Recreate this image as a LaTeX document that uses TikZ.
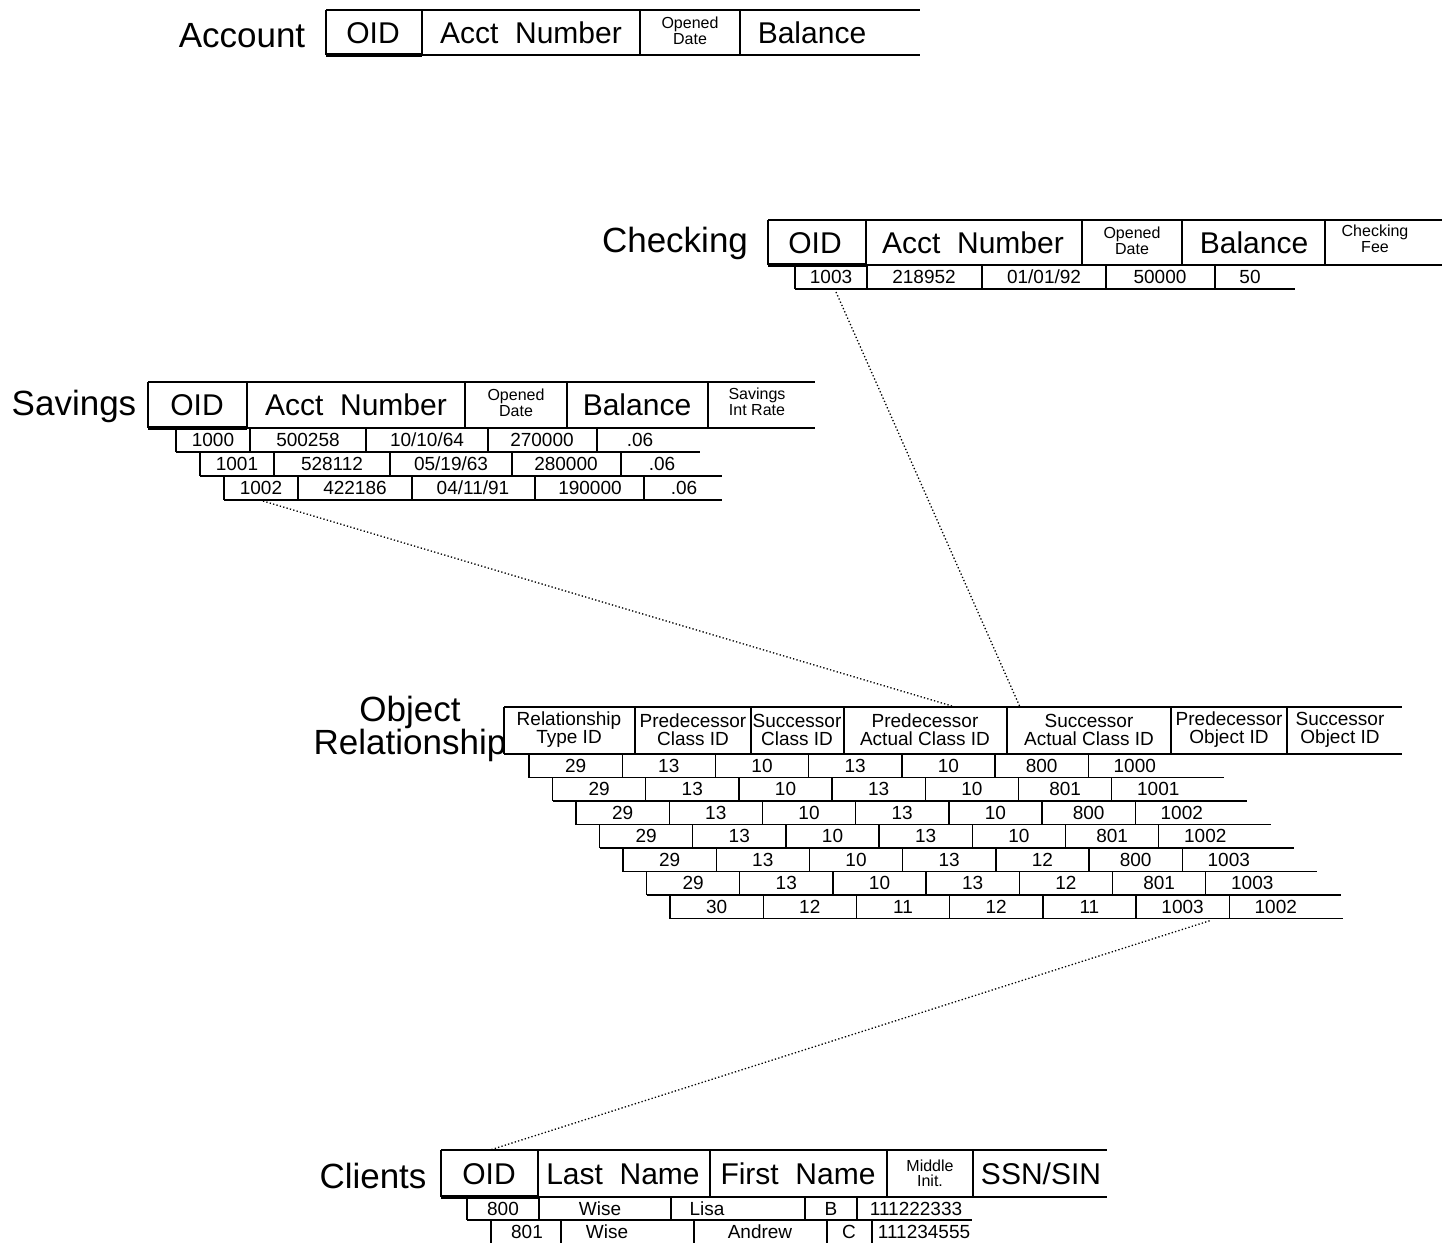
\documentclass[tikz,border=0pt]{standalone}
\usepackage{fontspec}
\setmainfont{Liberation Sans}
\usetikzlibrary{calc}
\tikzset{
  tl/.style={line width=1.4pt},
  hb/.style={line width=2.8pt},
  oidb/.style={line width=3.6pt},
  ttl/.style={font=\fontsize{35}{32}\selectfont, inner sep=0pt, align=center},
  hd/.style={font=\fontsize{30}{30}\selectfont, inner sep=0pt},
  sm/.style={font=\fontsize{16}{15.5}\selectfont, inner sep=0pt, align=center},
  orh/.style={font=\fontsize{19}{18}\selectfont, inner sep=0pt, align=center},
  dat/.style={font=\fontsize{19}{19}\selectfont, inner sep=0pt},
  link/.style={line width=1.3pt, dash pattern=on 1.3pt off 2.2pt}
}
\begin{document}
\begin{tikzpicture}[x=1pt,y=-1pt]
\useasboundingbox (0,0) rectangle (1442,1243);
\fill[white] (0,0) rectangle (1442,1243);

% ---------------- Account ----------------
\node[ttl] (acc) at (242,36) {Account};
\draw[tl] (326,10) -- (920,10);
\draw[hb] (326,55) -- (920,55);
\draw[oidb] (326,55) -- (422,55);
\foreach \x in {326,422,640,740} \draw[tl] (\x,10) -- (\x,55);
\node[hd] (acc-1) at (373,33) {OID};
\node[hd] (acc-2) at (531,33) {Acct~ Number};
\node[sm] (acc-3) at (690,31) {Opened\\Date};
\node[hd] (acc-4) at (812,33) {Balance};

% ---------------- Checking ----------------
\node[ttl] (chk) at (675,243) {Checking};
\draw[tl] (768,220) -- (1442,220);
\draw[hb] (768,265) -- (1442,265);
\draw[oidb] (768,265) -- (866,265);
\foreach \x in {768,866,1082,1182,1325} \draw[tl] (\x,220) -- (\x,265);
\node[hd] (chkh-1) at (815,243) {OID};
\node[hd] (chkh-2) at (973,243) {Acct~ Number};
\node[sm] (chkh-3) at (1132,241) {Opened\\Date};
\node[hd] (chkh-4) at (1254,243) {Balance};
\node[sm] (chkh-5) at (1375,239) {Checking\\Fee};
% row
\draw[tl] (795,289) -- (1295,289);
\foreach \x in {795,867,982,1106,1215} \draw[tl] (\x,265) -- (\x,289);
\node[dat] (chk-1) at (831,277) {1003};
\node[dat] (chk-2) at (924,277) {218952};
\node[dat] (chk-3) at (1044,277) {01/01/92};
\node[dat] (chk-4) at (1160,277) {50000};
\node[dat] (chk-5) at (1250,277) {50};

% ---------------- Savings ----------------
\node[ttl] (sav) at (74,406) {Savings};
\draw[tl] (148,382) -- (815,382);
\draw[hb] (148,428) -- (815,428);
\draw[oidb] (148,428) -- (247,428);
\foreach \x in {148,247,465,567,708} \draw[tl] (\x,382) -- (\x,428);
\node[hd] (savh-1) at (197,405) {OID};
\node[hd] (savh-2) at (356,405) {Acct~ Number};
\node[sm] (savh-3) at (516,403) {Opened\\Date};
\node[hd] (savh-4) at (637,405) {Balance};
\node[sm] (savh-5) at (757,402) {Savings\\Int Rate};
% row 1
\draw[tl] (176,452) -- (700,452);
\foreach \x in {176,250,366,488,597} \draw[tl] (\x,428) -- (\x,452);
\node[dat] (sav1-1) at (213,440) {1000};
\node[dat] (sav1-2) at (308,440) {500258};
\node[dat] (sav1-3) at (427,440) {10/10/64};
\node[dat] (sav1-4) at (542,440) {270000};
\node[dat] (sav1-5) at (640,440) {.06};
% row 2
\draw[tl] (200,476) -- (722,476);
\foreach \x in {200,274,390,512,621} \draw[tl] (\x,452) -- (\x,476);
\node[dat] (sav2-1) at (237,464) {1001};
\node[dat] (sav2-2) at (332,464) {528112};
\node[dat] (sav2-3) at (451,464) {05/19/63};
\node[dat] (sav2-4) at (566,464) {280000};
\node[dat] (sav2-5) at (662,464) {.06};
% row 3
\draw[tl] (224,500) -- (722,500);
\foreach \x in {224,298,412,535,644} \draw[tl] (\x,476) -- (\x,500);
\node[dat] (sav3-1) at (261,488) {1002};
\node[dat] (sav3-2) at (355,488) {422186};
\node[dat] (sav3-3) at (473,488) {04/11/91};
\node[dat] (sav3-4) at (590,488) {190000};
\node[dat] (sav3-5) at (684,488) {.06};

% ---------------- Object Relationship ----------------
\node[ttl] (orl) at (410,729) {Object\\Relationship};
\draw[tl] (504,707) -- (1402,707);
\draw[hb] (504,754) -- (1402,754);
\foreach \x in {504,635,751,844,1007,1171,1287} \draw[tl] (\x,707) -- (\x,754);
\node[orh] (orh-1) at (569,730) {Relationship\\Type ID};
\node[orh] (orh-2) at (693,730) {Predecessor\\Class ID};
\node[orh] (orh-3) at (797,730) {Successor\\Class ID};
\node[orh] (orh-4) at (925,730) {Predecessor\\Actual Class ID};
\node[orh] (orh-5) at (1089,730) {Successor\\Actual Class ID};
\node[orh] (orh-6) at (1229,730) {Predecessor\\Object ID};
\node[orh] (orh-7) at (1340,730) {Successor\\Object ID};
\foreach \r/\vals/\e in {
  1/{29,13,10,13,10,800,1000}/1224,
  2/{29,13,10,13,10,801,1001}/1247,
  3/{29,13,10,13,10,800,1002}/1271,
  4/{29,13,10,13,10,801,1002}/1294,
  5/{29,13,10,13,12,800,1003}/1317,
  6/{29,13,10,13,12,801,1003}/1341,
  7/{30,12,11,12,11,1003,1002}/1343} {
  \pgfmathsetmacro\L{529+23.5*(\r-1)}
  \pgfmathsetmacro\T{754+23.5*(\r-1)}
  \pgfmathsetmacro\B{\T+23.5}
  \draw[tl] (\L,\B) -- (\e,\B);
  \foreach \v [count=\c] in \vals {
    \pgfmathsetmacro\xa{\L+93.2*(\c-1)}
    \draw[tl] (\xa,\T) -- (\xa,\B);
    \node[dat] (or-\r-\c) at ({\xa+46.6},{(\T+\B)/2}) {\v};
  }
}

% ---------------- Clients ----------------
\node[ttl] (cli) at (373,1176) {Clients};
\draw[tl] (441,1150) -- (1107,1150);
\draw[hb] (441,1197) -- (1107,1197);
\draw[oidb] (441,1197) -- (538,1197);
\foreach \x in {441,538,710,887,973} \draw[tl] (\x,1150) -- (\x,1197);
\node[hd] (clih-1) at (489,1174) {OID};
\node[hd] (clih-2) at (623,1174) {Last~ Name};
\node[hd] (clih-3) at (798,1174) {First~ Name};
\node[sm] (clih-4) at (930,1173) {Middle\\Init.};
\node[hd] (clih-5) at (1041,1174) {SSN/SIN};
% row 1
\draw[tl] (467,1220) -- (972,1220);
\foreach \x in {467,539,671,805,857} \draw[tl] (\x,1197) -- (\x,1220);
\node[dat] (cli1-1) at (503,1209) {800};
\node[dat] (cli1-2) at (600,1209) {Wise};
\node[dat] (cli1-3) at (707,1209) {Lisa};
\node[dat] (cli1-4) at (831,1209) {B};
\node[dat] (cli1-5) at (916,1209) {111222333};
% row 2
\foreach \x in {491,561,694,827,872} \draw[tl] (\x,1220) -- (\x,1243);
\node[dat] (cli2-1) at (527,1232) {801};
\node[dat] (cli2-2) at (607,1232) {Wise};
\node[dat] (cli2-3) at (760,1232) {Andrew};
\node[dat] (cli2-4) at (849,1232) {C};
\node[dat] (cli2-5) at (924,1232) {111234555};

% ---------------- links ----------------
\draw[link] ($(chk-1)+(5,15)$) -- ($(orh-5)+(-69,-23)$);
\draw[link] ($(sav3-1)+(2,13)$) -- ($(orh-4)+(27,-24)$);
\draw[link] ($(or-7-6)+(27,14)$) -- ($(clih-1)+(1,-24)$);
\end{tikzpicture}
\end{document}
